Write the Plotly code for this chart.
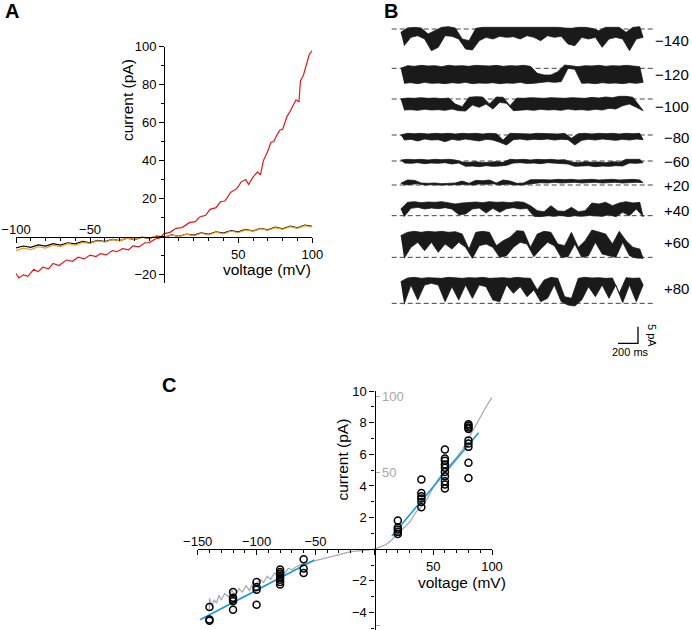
import numpy as np
import plotly.graph_objects as go

W, H = 692, 630
FONT = "Liberation Sans, Arial, Helvetica, sans-serif"

# ---------------- A: ramp I-V (pA vs mV) ----------------
a_red_v = [-100, -98, -95, -92, -88, -85, -82, -78, -75, -71, -66, -62, -58, -54, -50, -46,
           -43, -39, -35, -32, -28, -24, -21, -17, -13, -10, -6, -3, 0, 4, 8, 12, 17, 21, 24,
           28, 31, 35, 38, 41, 45, 49, 52, 55, 57, 60, 63, 65, 67, 70, 72, 74, 76, 78, 80, 83,
           85, 87, 89, 91, 92, 94, 96, 98, 100]
a_red_i = [-19.5, -21.8, -20.2, -21.0, -17.3, -18.6, -16.2, -17.0, -14.2, -15.3, -12.4, -13.1,
           -10.9, -11.8, -9.8, -10.6, -9.0, -9.7, -7.4, -8.0, -6.4, -7.0, -4.9, -5.5, -3.3, -3.2,
           -1.3, -0.8, 1.5, 2.2, 4.3, 4.7, 7.3, 7.8, 10.3, 11.2, 14.3, 15.2, 18.3, 18.7, 23.3,
           25.2, 28.8, 30.0, 27.5, 31.3, 34.0, 32.5, 40.0, 45.0, 49.5, 50.0, 53.3, 56.0, 56.5,
           63.3, 66.0, 69.3, 72.0, 71.0, 82.0, 85.0, 91.0, 96.0, 98.0]
a_v = [-100, -95, -90, -85, -80, -75, -70, -65, -60, -55, -50, -45, -40, -35, -30, -25, -20,
       -15, -10, -5, 0, 5, 10, 15, 20, 25, 30, 35, 40, 45, 50, 55, 60, 65, 70, 75, 80, 85, 90,
       95, 100]
a_black = [-6.0, -5.0, -5.7, -4.4, -5.1, -3.8, -4.5, -3.3, -3.9, -2.6, -3.3, -2.1, -2.7, -1.5,
           -2.2, -0.9, -1.6, -0.4, -1.0, 0.2, -0.4, 0.8, 0.1, 1.3, 0.7, 1.9, 1.2, 2.5, 1.8, 3.1,
           2.4, 3.7, 2.9, 4.3, 3.5, 4.9, 4.1, 5.5, 4.6, 6.0, 5.4]
a_orange = [-7.5, -6.1, -6.9, -5.4, -6.1, -4.6, -5.3, -3.8, -4.5, -3.1, -3.6, -2.3, -2.9, -1.6,
            -2.2, -0.9, -1.5, -0.2, -0.8, 0.4, -0.5, 0.8, -0.1, 1.2, 0.3, 1.7, 0.8, 2.3, 1.4,
            2.9, 2.1, 3.5, 2.7, 4.1, 3.2, 4.7, 3.8, 5.2, 4.3, 5.7, 5.0]

# ---------------- B: single-channel records ----------------
b_volts = ["−140", "−120", "−100", "−80", "−60", "+20", "+40", "+60", "+80"]
b_t = np.arange(36) * 68.3   # ms sample grid
b_hi_m140 = [-1.0, 0.3, 0.5, 0.3, -1.5, -0.5, 0.5, 0.7, 0.3, -3.0, -3.5, 0.2, 0.5, 0.5, 0.5,
             0.7, 0.5, 0.7, 0.5, 0.6, 0.5, 0.5, 0.7, 0.5, 0.3, 0.2, 0.5, 0.5, 0.2, -0.5, 0.5,
             0.6, 0.5, -1.0, 0.5, 0.7]
b_lo_m140 = [-5.0, -2.5, -2.0, -3.0, -6.5, -5.5, -2.0, -2.2, -3.0, -6.0, -6.3, -3.5, -2.5, -3.0,
             -2.2, -2.5, -2.3, -3.0, -2.0, -2.5, -3.5, -2.0, -2.5, -2.2, -4.5, -5.0, -2.5, -3.0,
             -2.5, -5.5, -3.0, -2.5, -3.0, -6.5, -3.0, -2.5]
b_hi_m120 = [0.0, 0.8, 0.6, 0.9, 0.7, 0.8, 0.5, 0.9, 0.7, 0.8, 0.6, 0.9, 0.8, 0.7, 0.9, 0.6,
             0.8, 0.7, 0.9, 0.6, -1.5, -2.0, -2.0, -1.0, 1.0, 0.8, 0.5, 0.8, 0.7, 0.9, 0.6, 0.8,
             0.7, 0.9, 0.6, 0.5]
b_lo_m120 = [-4.5, -4.3, -4.6, -4.2, -4.5, -4.4, -4.6, -4.3, -4.5, -4.2, -4.6, -4.4, -4.5, -4.3,
             -4.6, -4.4, -4.5, -4.2, -4.6, -4.5, -4.3, -4.0, -4.2, -4.0, 0.0, -0.3, -4.5, -4.4,
             -4.6, -4.3, -4.5, -4.4, -4.6, -4.3, -4.5, -4.2]
b_hi_m100 = [0.0, 0.3, 0.2, 0.4, 0.2, 0.3, 0.1, 0.3, -1.5, -2.3, 0.5, 0.7, 0.6, -1.5, 0.6, 0.5,
             -2.0, 0.3, 0.2, 0.4, 0.3, 0.2, 0.4, 0.3, 0.2, 0.4, 0.3, 0.2, 0.5, 0.3, 0.6, 0.4,
             0.8, 0.8, 0.5, -2.0]
b_lo_m100 = [-3.3, -3.2, -3.4, -3.1, -3.3, -3.2, -3.4, -3.0, -3.5, -3.6, -1.8, -2.5, -1.5, -3.0,
             -1.0, -1.3, -3.5, -3.3, -3.2, -3.4, -3.1, -3.3, -3.2, -3.4, -3.0, -3.3, -3.2, -3.4,
             -3.1, -3.3, -2.8, -3.0, -2.0, -1.5, -2.5, -3.5]
b_hi_m80 = [0.0, 0.5, 0.4, 0.5, 0.3, 0.5, 0.4, 0.5, 0.3, 0.5, 0.4, 0.5, 0.3, 0.5, 0.4, -1.5,
            0.5, 0.4, 0.5, 0.3, 0.5, 0.4, 0.5, 0.3, 0.5, -1.0, 0.4, 0.5, 0.3, 0.5, 0.4, 0.5,
            0.3, 0.5, 0.4, 0.5]
b_lo_m80 = [-1.5, -1.3, -1.8, -1.2, -1.5, -1.4, -2.0, -1.3, -1.6, -1.2, -1.5, -1.8, -1.3, -1.5,
            -2.2, -3.0, -1.4, -1.2, -1.5, -1.3, -1.4, -1.2, -1.5, -1.3, -1.4, -3.0, -1.6, -1.3,
            -1.5, -1.2, -1.4, -1.6, -1.3, -1.5, -1.2, -1.4]
b_hi_m60 = [0.3, 0.5, 0.4, 0.5, 0.3, 0.5, 0.4, 0.5, 0.3, -0.3, -0.4, -0.2, -0.5, -0.3, -0.2,
            -0.4, 0.5, 0.4, 0.5, 0.3, 0.5, 0.4, 0.5, 0.3, 0.4, -0.3, -0.5, -0.2, -0.4, -0.3,
            -0.5, -0.2, -0.4, 0.5, 0.4, 0.5]
b_lo_m60 = [-0.6, -0.7, -0.5, -0.8, -0.6, -0.7, -0.5, -0.9, -0.6, -1.6, -1.5, -1.7, -1.4, -1.6,
            -1.5, -1.3, -0.6, -0.5, -0.7, -0.6, -0.8, -0.5, -0.6, -0.7, -0.9, -1.6, -1.5, -1.4,
            -1.7, -1.5, -1.6, -1.4, -1.5, -0.6, -0.7, -0.5]
b_hi_p20 = [0.5, 1.5, 1.4, 0.6, 0.5, 0.6, 0.4, 0.5, 0.6, 1.2, 0.5, 1.4, 1.3, 1.5, 0.6, 1.5, 1.2,
            0.5, 0.6, 1.6, 1.7, 1.6, 1.5, 1.7, 1.6, 1.7, 1.5, 1.6, 1.7, 1.5, 1.6, 1.7, 1.5, 1.6,
            1.7, 1.5]
b_lo_p20 = [0.0, 0.3, 0.4, 0.0, 0.1, 0.0, 0.1, 0.0, 0.1, 0.2, 0.0, 0.3, 0.2, 0.4, 0.0, 0.3, 0.1,
            0.0, 0.1, 0.5, 0.7, 0.6, 0.8, 0.6, 0.7, 0.8, 0.6, 0.7, 0.8, 0.6, 0.7, 0.8, 0.6, 0.7,
            0.8, 0.7]
b_hi_p40 = [2.0, 4.0, 4.2, 3.9, 4.1, 4.0, 4.2, 3.9, 3.5, 3.8, 4.0, 4.1, 3.9, 4.2, 4.0, 4.1, 3.9,
            4.2, 4.0, 3.0, 1.5, 1.2, 3.0, 1.4, 1.3, 2.5, 1.2, 1.5, 3.8, 3.5, 4.0, 3.0, 3.8, 4.2,
            3.8, 4.0]
b_lo_p40 = [-0.3, 2.2, 2.5, 2.0, 2.3, 2.1, 2.4, 2.0, 0.3, 0.5, 2.0, 2.3, 0.8, 2.2, 1.0, 2.1, 2.4,
            2.0, 2.2, -0.2, -0.3, 0.0, -0.2, 0.1, -0.3, 0.0, -0.2, 0.1, 0.0, -0.2, 0.3, -0.3,
            1.0, 0.0, 2.0, -0.3]
b_hi_p60 = [6.5, 7.5, 7.8, 7.5, 7.8, 7.6, 7.8, 7.5, 7.7, 7.0, 2.5, 7.5, 7.8, 7.5, 3.5, 5.0, 6.0,
            8.0, 7.8, 3.0, 7.0, 7.8, 7.5, 4.0, 3.5, 7.5, 3.0, 5.0, 8.2, 7.5, 7.0, 4.0, 7.8, 5.0,
            3.0, 2.5]
b_lo_p60 = [-0.3, 3.0, 4.5, 2.0, 4.5, 1.5, 4.0, 2.5, 4.5, 3.0, -0.3, 3.5, 4.0, 3.0, 0.0, 0.5,
            3.0, 4.5, 4.0, 0.2, 2.5, 4.5, 3.5, 0.0, 0.2, 4.0, 0.0, 0.5, 4.5, 1.0, 0.5, 0.0, 4.5,
            0.5, -0.2, -0.3]
b_hi_p80 = [6.5, 7.6, 7.8, 7.5, 7.7, 7.6, 7.5, 7.8, 7.6, 7.5, 7.7, 7.6, 7.8, 7.5, 7.6, 7.7, 7.5,
            7.8, 7.6, 7.5, 4.0, 7.0, 7.8, 7.5, 2.0, 1.5, 7.5, 7.8, 7.6, 7.7, 7.5, 7.6, 3.0, 7.7,
            7.5, 7.6]
b_lo_p80 = [-0.3, 5.5, 1.0, 5.5, 6.0, 5.5, 0.5, 5.0, 1.0, 5.5, 1.5, 5.5, 5.0, 1.0, 0.5, 5.5,
            3.0, 5.0, 2.0, 4.0, 0.5, 1.5, 5.5, 0.5, -0.5, -0.8, 1.0, 5.0, 2.0, 5.5, 1.5, 5.5,
            0.2, 5.5, 0.5, 5.5]

# ---------------- C: unitary I-V ----------------
c_v = [-140] * 3 + [-120] * 5 + [-100] * 4 + [-80] * 8 + [-60] * 3 + [20] * 5 + [40] * 6 \
      + [60] * 10 + [80] * 9
c_i = [-3.65, -4.43, -4.51,
       -2.70, -3.06, -3.18, -3.29, -3.82,
       -2.07, -2.39, -2.55, -3.50,
       -1.28, -1.44, -1.54, -1.66, -1.79, -1.92, -2.07, -2.22,
       -0.63, -1.22, -1.50,
       1.82, 1.37, 1.25, 1.10, 0.97,
       4.41, 3.56, 3.35, 3.21, 2.99, 2.66,
       6.31, 5.74, 5.59, 5.36, 5.15, 4.89, 4.62, 4.30, 4.09, 3.84,
       7.90, 7.80, 7.70, 7.60, 6.88, 6.69, 6.47, 5.46, 4.51]
fit_neg_v = [-148, -51]
fit_neg_i = [-4.45, -0.68]
fit_pos_v = [15, 88.6]
fit_pos_i = [0.84, 7.36]
ramp_v = [-140, -140, -138, -136, -134, -132, -130, -127, -124, -121, -118, -115, -112, -109,
          -106, -103, -100, -97, -94, -91, -88, -85, -82, -79, -76, -73, -70, -65, -60, -55,
          -50, -45, -40, -35, -30, -25, -20, -15, -10, -5, 0, 5, 10, 15, 20, 25, 30, 35, 40,
          45, 50, 55, 60, 65, 70, 75, 80, 85, 90, 95, 100]
ramp_i = [-40.3, -32.0, -37.2, -33.1, -35.1, -30.0, -33.1, -28.9, -31.0, -26.9, -30.0, -25.8,
          -27.9, -23.8, -26.9, -21.7, -22.7, -19.6, -21.7, -17.6, -19.6, -15.5, -17.6, -14.5,
          -15.5, -12.4, -13.4, -10.8, -9.3, -8.3, -7.2, -6.2, -5.2, -4.1, -3.1, -2.6, -1.5,
          -1.2, -0.8, -0.4, 0.0, 1.5, 3.1, 6.2, 10.3, 13.9, 17.6, 23.8, 27.9, 33.1, 40.3, 46.5,
          50.6, 55.8, 59.9, 65.1, 72.3, 79.5, 85.7, 93.0, 99.2]


def px(x):
    return x / W


def py(y):
    return 1 - y / H


fig = go.Figure()

# A traces
fig.add_trace(go.Scatter(x=a_red_v, y=a_red_i, xaxis="x", yaxis="y", mode="lines",
                         line=dict(color="#e8141c", width=1.2)))
fig.add_trace(go.Scatter(x=a_v, y=a_black, xaxis="x", yaxis="y", mode="lines",
                         line=dict(color="black", width=1.2)))
fig.add_trace(go.Scatter(x=a_v, y=a_orange, xaxis="x2", yaxis="y", mode="lines",
                         line=dict(color="#f39c1d", width=1.2)))

# B traces: envelope of each record, filled
b_his = [b_hi_m140, b_hi_m120, b_hi_m100, b_hi_m80, b_hi_m60, b_hi_p20, b_hi_p40, b_hi_p60, b_hi_p80]
b_los = [b_lo_m140, b_lo_m120, b_lo_m100, b_lo_m80, b_lo_m60, b_lo_p20, b_lo_p40, b_lo_p60, b_lo_p80]
b_base = [-8.7, -20.5, -29.7, -40.5, -48.3, -55.5, -64.7, -77.2, -91.0]   # row offsets (pA)
b_label_y = [40, 74, 106, 137, 162, 185, 211, 243, 289]                    # label rows (px)
for base, hi, lo in zip(b_base, b_his, b_los):
    fig.add_trace(go.Scatter(x=[-90, 2533], y=[base, base], xaxis="x5", yaxis="y5", mode="lines",
                             line=dict(color="#444", width=1, dash="5px,3px")))
    fig.add_trace(go.Scatter(x=np.concatenate([b_t, b_t[::-1] + 34]),
                             y=np.concatenate([np.array(hi), np.array(lo)[::-1]]) + base,
                             xaxis="x5", yaxis="y5", mode="lines", fill="toself",
                             fillcolor="#1a1a1a", line=dict(color="#1a1a1a", width=0.8)))
# scale bar 200 ms / 5 pA
fig.add_trace(go.Scatter(x=[2173, 2373, 2373], y=[-103.0, -103.0, -98.0], xaxis="x5", yaxis="y5",
                         mode="lines", line=dict(color="black", width=1.3)))

# C traces
fig.add_trace(go.Scatter(x=ramp_v, y=ramp_i, xaxis="x3", yaxis="y3", mode="lines",
                         line=dict(color="#a9a9b0", width=1.3)))
fig.add_trace(go.Scatter(x=fit_neg_v, y=fit_neg_i, xaxis="x4", yaxis="y4", mode="lines",
                         line=dict(color="#1a9bd7", width=1.6)))
fig.add_trace(go.Scatter(x=fit_pos_v, y=fit_pos_i, xaxis="x4", yaxis="y4", mode="lines",
                         line=dict(color="#1a9bd7", width=1.6)))
fig.add_trace(go.Scatter(x=c_v, y=c_i, xaxis="x4", yaxis="y4", mode="markers",
                         marker=dict(symbol="circle-open", size=7, color="black",
                                     line=dict(width=1.5))))

tf = dict(family=FONT, size=13, color="black")
common = dict(showgrid=False, zeroline=False, linecolor="black", linewidth=1.2,
              tickcolor="black", tickwidth=1.2, tickfont=tf, automargin=False)
minor_x = dict(ticks="outside", ticklen=3, dtick=10, tick0=0, tickcolor="black")

a_y0 = py(237)
c_y0 = py(549)
fig.update_layout(
    width=W, height=H, margin=dict(l=0, r=0, t=0, b=0, autoexpand=False),
    paper_bgcolor="white", plot_bgcolor="rgba(0,0,0,0)", showlegend=False,
    font=dict(family=FONT, color="black"),
    # A axes
    xaxis=dict(domain=[px(16), px(312.3)], range=[-100, 100], anchor="free", position=a_y0,
               showline=True, ticks="outside", ticklen=5,
               tickvals=[-100, -50, 0, 50, 100], ticktext=["", "", "", "50", "100"],
               minor=minor_x, **common),
    xaxis2=dict(overlaying="x", side="top", range=[-100, 100], anchor="free", position=a_y0,
                showline=False, ticks="", tickvals=[-100, -50], **common),
    yaxis=dict(domain=[py(283), py(46.7)], range=[-24.5, 100], anchor="free", position=px(164.2),
               showline=True, ticks="outside", ticklen=5,
               tickvals=[-20, 0, 20, 40, 60, 80, 100],
               ticktext=["−20", "", "20", "40", "60", "80", "100"],
               minor=minor_x, **common),
    # C axes
    xaxis3=dict(domain=[px(197.7), px(492)], range=[-150, 100], anchor="free", position=c_y0,
                showline=True, ticks="outside", ticklen=5,
                tickvals=[-150, -100, -50, 0, 50, 100], ticktext=["", "", "", "", "50", "100"],
                minor=minor_x, **common),
    xaxis4=dict(overlaying="x3", side="top", range=[-150, 100], anchor="free", position=c_y0,
                showline=False, ticks="", tickvals=[-150, -100, -50], **common),
    yaxis3=dict(domain=[0, py(391)], range=[-52.7, 103.3], anchor="free", position=px(374.5),
                side="right", showline=False, ticks="outside", ticklen=4, automargin=False,
                tickvals=[-50, 50, 100], showgrid=False, zeroline=False,
                tickcolor="#a8a8a8", tickfont=dict(family=FONT, size=13, color="#a8a8a8")),
    yaxis4=dict(overlaying="y3", side="left", range=[-5.1, 10], anchor="free", position=px(374.5),
                showline=True, ticks="outside", ticklen=5,
                tickvals=[-4, -2, 0, 2, 4, 6, 8, 10],
                ticktext=["−4", "−2", "", "2", "4", "6", "8", "10"],
                minor=dict(ticks="outside", ticklen=3, dtick=1, tick0=0, tickcolor="black"),
                **common),
    # B axes (hidden)
    xaxis5=dict(domain=[px(380), 1], range=[-207, 2913], anchor="y5", visible=False,
                automargin=False),
    yaxis5=dict(domain=[py(360), 1], range=[-108, 0], anchor="x5", visible=False,
                automargin=False),
)

ann = []
for txt, x, y in [("A", 12, 11), ("B", 391, 11), ("C", 169, 385)]:
    ann.append(dict(text="<b>%s</b>" % txt, x=px(x), y=py(y),
                    font=dict(family=FONT, size=20, color="black")))
ttl = dict(family=FONT, size=15.5, color="black")
ann += [
    dict(text="current (pA)", x=px(127), y=py(100), textangle=-90, font=ttl),
    dict(text="voltage (mV)", x=px(267), y=py(269), font=ttl),
    dict(text="current (pA)", x=px(341.5), y=py(460), textangle=-90, font=ttl),
    dict(text="voltage (mV)", x=px(462), y=py(582), font=ttl),
    dict(text="200 ms", x=px(630), y=py(352), font=dict(family=FONT, size=11, color="black")),
    dict(text="5 pA", x=px(652), y=py(335), textangle=90,
         font=dict(family=FONT, size=11, color="black")),
]
for lab, y in zip(b_volts, b_label_y):
    ann.append(dict(text=lab, x=px(691), y=py(y), xanchor="right",
                    font=dict(family=FONT, size=15, color="black")))
for a in ann:
    a.setdefault("xanchor", "center")
    a.update(xref="paper", yref="paper", showarrow=False, yanchor="middle")
fig.update_layout(annotations=ann)

fig.write_html("out.html", config={"displayModeBar": False},
               post_script="document.body.style.margin='0';")
